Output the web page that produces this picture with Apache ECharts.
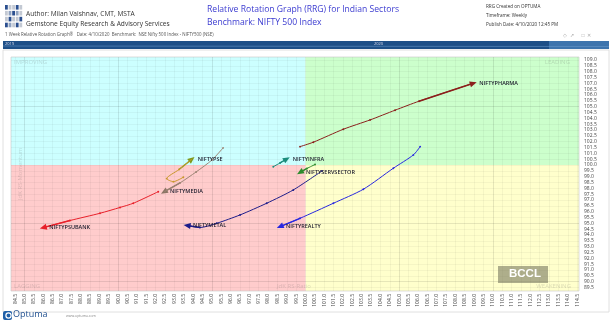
<!DOCTYPE html>
<html><head><meta charset="utf-8">
<script src="https://cdn.jsdelivr.net/npm/echarts@6/dist/echarts.min.js"></script>
<style>html,body{margin:0;padding:0;background:#fff}#c{width:612px;height:322px}</style>
</head><body><div id="c"></div>
<script>
// ---- axis ranges & ticks ----
const X_MIN = 84.28, X_MAX = 114.6, Y_MIN = 89.2, Y_MAX = 109.25, CENTER = 100;
const xTicks = [84.5,85.0,85.5,86.0,86.5,87.0,87.5,88.0,88.5,89.0,89.5,90.0,90.5,91.0,91.5,92.0,92.5,93.0,93.5,94.0,94.5,95.0,95.5,96.0,96.5,97.0,97.5,98.0,98.5,99.0,99.5,100.0,100.5,101.0,101.5,102.0,102.5,103.0,103.5,104.0,104.5,105.0,105.5,106.0,106.5,107.0,107.5,108.0,108.5,109.0,109.5,110.0,110.5,111.0,111.5,112.0,112.5,113.0,113.5,114.0,114.5];
const yTicks = [89.5,90.0,90.5,91.0,91.5,92.0,92.5,93.0,93.5,94.0,94.5,95.0,95.5,96.0,96.5,97.0,97.5,98.0,98.5,99.0,99.5,100.0,100.5,101.0,101.5,102.0,102.5,103.0,103.5,104.0,104.5,105.0,105.5,106.0,106.5,107.0,107.5,108.0,108.5,109.0];
const xMajor = [85, 90, 95, 105, 110];
const yMajor = [90, 95, 105];

// ---- sector tails (JdK RS-Ratio, JdK RS-Momentum), oldest -> latest ----
const sectorNames = ['NIFTYPHARMA','NIFTYINFRA','NIFTYSERVSECTOR','NIFTYPSE','NIFTYMEDIA','NIFTYPSUBANK','NIFTYMETAL','NIFTYREALTY'];
const pharmaRatio = [99.71,100.42,102.02,103.45,104.78,106.06,108.96];
const pharmaMom   = [101.57,101.95,103.06,103.86,104.69,105.46,107.00];
const infraRatio  = [98.28,98.64,99.00];
const infraMom    = [99.85,100.17,100.51];
const servRatio   = [100.51,100.08,99.71];
const servMom     = [100.04,99.70,99.36];
const pseRatio    = [93.48,92.95,92.59,93.25,93.93];
const pseMom      = [98.95,98.57,98.83,99.61,100.49];
const mediaRatio  = [95.60,95.01,94.16,93.30,92.45];
const mediaMom    = [101.46,100.43,99.40,98.46,97.69];
const psuRatio    = [92.14,90.81,90.10,89.03,87.43,86.00];
const psuMom      = [97.71,96.72,96.36,95.86,95.24,94.63];
const metalRatio  = [100.88,99.35,97.93,96.51,95.26,94.37,93.68];
const metalMom    = [99.49,97.86,96.72,95.72,95.00,94.64,94.81];
const realtyRatio = [106.12,105.76,104.69,103.09,101.49,99.71,98.64];
const realtyMom   = [101.57,100.86,99.72,97.92,96.72,95.43,94.71];

const tails = [
  {name: sectorNames[0], rx: pharmaRatio, my: pharmaMom, color: '#8b1f1c', head: '#8b1f1c'},
  {name: sectorNames[1], rx: infraRatio, my: infraMom, color: '#1b8c7c', head: '#1b8c7c'},
  {name: sectorNames[2], rx: servRatio, my: servMom, color: '#2e8b2e', head: '#2e8b2e'},
  {name: sectorNames[3], rx: pseRatio, my: pseMom, color: '#c9972a', head: '#7f9a1c'},
  {name: sectorNames[4], rx: mediaRatio, my: mediaMom, color: '#9c8474', head: '#8c7464'},
  {name: sectorNames[5], rx: psuRatio, my: psuMom, color: '#e8202a', head: '#e8202a'},
  {name: sectorNames[6], rx: metalRatio, my: metalMom, color: '#1c1c8a', head: '#1c1c8a'},
  {name: sectorNames[7], rx: realtyRatio, my: realtyMom, color: '#2828e0', head: '#2828e0'}
];

const chart = echarts.init(document.getElementById('c'), null, {renderer: 'canvas'});
const FONT = 'Open Sans';

const series = [];
// quadrant backgrounds
series.push({
  type: 'line', data: [], z: 1, silent: true,
  markArea: {
    silent: true,
    data: [
      [{coord: [X_MIN, CENTER], itemStyle: {color: '#ccffff'}}, {coord: [CENTER, Y_MAX]}],
      [{coord: [CENTER, CENTER], itemStyle: {color: '#ccffcc'}}, {coord: [X_MAX, Y_MAX]}],
      [{coord: [CENTER, Y_MIN], itemStyle: {color: '#ffffcc'}}, {coord: [X_MAX, CENTER]}],
      [{coord: [X_MIN, Y_MIN], itemStyle: {color: '#ffcccc'}}, {coord: [CENTER, CENTER]}]
    ]
  }
});

tails.forEach(t => {
  const n = t.rx.length;
  const data = t.rx.map((x, i) => {
    const item = {value: [x, t.my[i]]};
    if (i === n - 1) {
      item.symbolSize = 0;
      item.label = {show: true, position: 'right', distance: 6, formatter: t.name,
        fontSize: 5.5, fontFamily: FONT, color: '#1a1a2a', fontWeight: 600};
    }
    return item;
  });
  series.push({
    type: 'line', name: t.name, z: 5, data: data, smooth: 0.25,
    symbol: 'circle', symbolSize: 1.9, showSymbol: true,
    itemStyle: {color: t.color},
    lineStyle: {color: t.color, width: 1},
    markLine: {
      silent: true, symbol: ['none', 'triangle'], symbolSize: [6, 7],
      lineStyle: {color: t.head, width: 1.4, type: 'solid'},
      label: {show: false},
      data: [[{coord: [t.rx[n - 2], t.my[n - 2]]}, {coord: [t.rx[n - 1], t.my[n - 1]]}]]
    }
  });
});

const g = [];
// header logo squares
for (let r = 0; r < 4; r++) for (let c = 0; c < 5; c++) {
  const col = ((r + c) % 3 === 0) ? '#2b4f8f' : ((r * c) % 2 ? '#8fa2c0' : '#c3c9d3');
  g.push({type: 'rect', shape: {x: 5 + c * 3.6, y: 5 + r * 5.9, width: 2.8, height: 4.6}, style: {fill: col}});
}
g.push({type: 'text', left: 26, top: 11, style: {text: 'Author: Milan Vaishnav, CMT, MSTA', font: '6.6px ' + FONT, fill: '#333'}});
g.push({type: 'text', left: 26, top: 21, style: {text: 'Gemstone Equity Research & Advisory Services', font: '6.6px ' + FONT, fill: '#333'}});
g.push({type: 'text', left: 207, top: 5, style: {text: 'Relative Rotation Graph (RRG) for Indian Sectors', font: '8.6px ' + FONT, fill: '#3b3bd0'}});
g.push({type: 'text', left: 207, top: 18, style: {text: 'Benchmark: NIFTY 500 Index', font: '8.6px ' + FONT, fill: '#3b3bd0'}});
g.push({type: 'text', left: 486, top: 4, style: {text: 'RRG Created on OPTUMA', font: '4.6px ' + FONT, fill: '#333'}});
g.push({type: 'text', left: 486, top: 13, style: {text: 'Timeframe: Weekly', font: '4.6px ' + FONT, fill: '#333'}});
g.push({type: 'text', left: 486, top: 22, style: {text: 'Publish Date: 4/10/2020 12:45 PM', font: '4.6px ' + FONT, fill: '#333'}});
g.push({type: 'text', left: 5, top: 33, style: {text: '1 Week Relative Rotation Graph\u00ae   Date: 4/10/2020  Benchmark:  NSE Nifty 500 Index - NIFTY500 (NSE)', font: '4.4px ' + FONT, fill: '#555'}});
g.push({type: 'text', left: 563, top: 33, style: {text: '\u25c7  \u2197      \u25a1  \u2715', font: '5px ' + FONT, fill: '#aaa'}});
// timeline bar
g.push({type: 'rect', shape: {x: 3, y: 41, width: 606, height: 8}, style: {fill: '#1e4f87'}});
g.push({type: 'rect', shape: {x: 549, y: 41, width: 60, height: 8}, style: {fill: '#3d74ad'}});
g.push({type: 'line', shape: {x1: 3, y1: 46, x2: 609, y2: 46.5}, style: {stroke: '#6f9ccc', lineWidth: 0.5}});
g.push({type: 'text', left: 5, top: 42, style: {text: '2019', font: '4px ' + FONT, fill: '#dde'}});
g.push({type: 'text', left: 374, top: 42, style: {text: '2020', font: '4px ' + FONT, fill: '#dde'}});
// outer frame
g.push({type: 'rect', shape: {x: 3, y: 50, width: 606, height: 262}, style: {fill: 'none', stroke: '#d8d8d8', lineWidth: 0.8}});
// quadrant texts
const qt = 'rgba(90,90,90,0.22)';
g.push({type: 'text', left: 14, top: 59, style: {text: 'IMPROVING', font: '6px ' + FONT, fill: qt}, z: 10});
g.push({type: 'text', right: 42, top: 59, style: {text: 'LEADING', font: '6px ' + FONT, fill: qt}, z: 10});
g.push({type: 'text', right: 41, top: 283, style: {text: 'WEAKENING', font: '6px ' + FONT, fill: qt}, z: 10});
g.push({type: 'text', left: 14, top: 283, style: {text: 'LAGGING', font: '6px ' + FONT, fill: qt}, z: 10});
g.push({type: 'text', left: 277, top: 283, style: {text: 'JdK RS-Ratio', font: '6px ' + FONT, fill: qt}, z: 10});
g.push({type: 'text', x: 17, y: 200, rotation: Math.PI / 2, style: {text: 'JdK RS-Momentum', font: '6px ' + FONT, fill: qt}, z: 10});
// BCCL watermark
g.push({type: 'rect', shape: {x: 498, y: 266, width: 50, height: 17}, style: {fill: 'rgba(120,120,95,0.6)'}, z: 20});
g.push({type: 'text', left: 509, top: 268, style: {text: 'BCCL', font: 'bold 11.5px Liberation Sans', fill: '#fff'}, z: 21});
// Optuma logo
g.push({type: 'rect', shape: {x: 3, y: 311, width: 9, height: 9, r: 2}, style: {fill: '#1f5fa8'}});
g.push({type: 'circle', shape: {cx: 8.5, cy: 315.5, r: 2.6}, style: {fill: 'none', stroke: '#fff', lineWidth: 1.2}});
g.push({type: 'text', left: 13, top: 310, style: {text: 'Optuma', font: '9px ' + FONT, fill: '#1f4f8f'}});
g.push({type: 'text', left: 66, top: 314, style: {text: 'www.optuma.com', font: '3.5px ' + FONT, fill: '#888'}});

const axisLab = {fontSize: 5, fontFamily: FONT, color: '#444'};
chart.setOption({
  animation: false,
  backgroundColor: '#fff',
  grid: {left: 11, right: 33, top: 57, bottom: 31, show: true, borderColor: '#c8c8c8', borderWidth: 0.6, backgroundColor: 'transparent', z: 3},
  xAxis: [
    {type: 'value', min: X_MIN, max: X_MAX, z: 3,
     axisLine: {show: false}, axisTick: {show: false, customValues: xTicks},
     axisLabel: Object.assign({rotate: 90, margin: 3, customValues: xTicks, formatter: v => v.toFixed(1)}, axisLab),
     splitLine: {show: true, lineStyle: {color: 'rgba(0,0,0,0.07)', width: 0.6}}},
    {type: 'value', min: X_MIN, max: X_MAX, z: 3, position: 'bottom',
     axisLine: {show: false}, axisTick: {show: false, customValues: xMajor}, axisLabel: {show: false, customValues: xMajor},
     splitLine: {show: true, lineStyle: {color: 'rgba(0,0,0,0.1)', width: 0.6}}}
  ],
  yAxis: [
    {type: 'value', min: Y_MIN, max: Y_MAX, position: 'right', z: 3,
     axisLine: {show: false}, axisTick: {show: false, customValues: yTicks},
     axisLabel: Object.assign({margin: 5, customValues: yTicks, formatter: v => v.toFixed(1)}, axisLab),
     splitLine: {show: true, lineStyle: {color: 'rgba(0,0,0,0.07)', width: 0.6}}},
    {type: 'value', min: Y_MIN, max: Y_MAX, position: 'right', z: 3,
     axisLine: {show: false}, axisTick: {show: false, customValues: yMajor}, axisLabel: {show: false, customValues: yMajor},
     splitLine: {show: true, lineStyle: {color: 'rgba(0,0,0,0.1)', width: 0.6}}}
  ],
  series: series,
  graphic: g
});
</script></body></html>
